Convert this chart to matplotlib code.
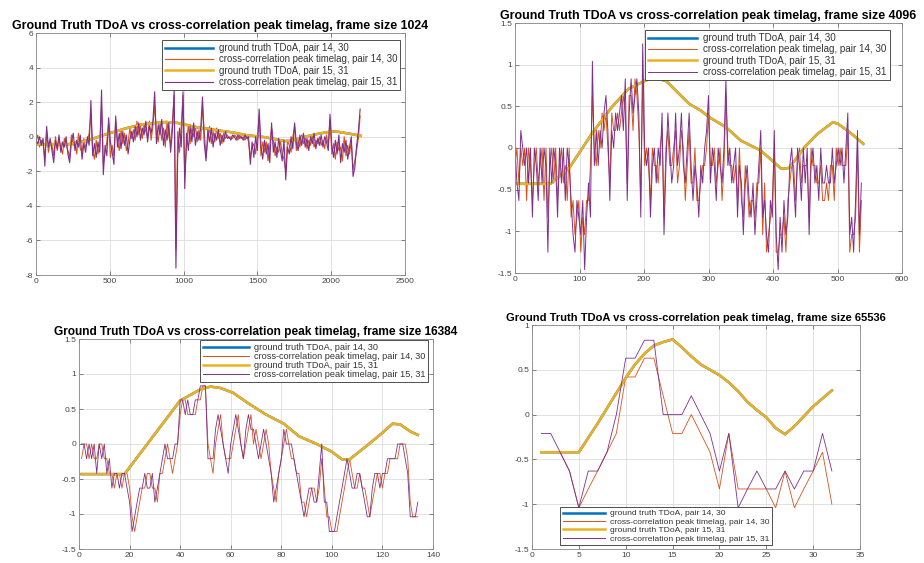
import numpy as np
import matplotlib
matplotlib.use("Agg")
import matplotlib.pyplot as plt
from matplotlib.ticker import FormatStrFormatter, MultipleLocator

plt.rcParams['font.family'] = ['Liberation Sans', 'DejaVu Sans']

# ---------------- labels ----------------
titles = ["Ground Truth TDoA vs cross-correlation peak timelag, frame size 1024",
          "Ground Truth TDoA vs cross-correlation peak timelag, frame size 4096",
          "Ground Truth TDoA vs cross-correlation peak timelag, frame size 16384",
          "Ground Truth TDoA vs cross-correlation peak timelag, frame size 65536"]
legend_labels = ["ground truth TDoA, pair 14, 30",
                 "cross-correlation peak timelag, pair 14, 30",
                 "ground truth TDoA, pair 15, 31",
                 "cross-correlation peak timelag, pair 15, 31"]

# ---------------- frame size 1024 (sampled every 12 frames) ----------------
tl_step = 12
tl_gt_x = [1, 224, 346, 485, 611, 717, 803, 876, 957, 994, 1100, 1173, 1226, 1332,
           1426, 1552, 1683, 1731, 1829, 1911, 2008, 2041, 2127, 2200]
tl_gt_y = [-0.43, -0.43, -0.23, 0.17, 0.49, 0.71, 0.79, 0.85, 0.80, 0.73, 0.53, 0.45,
           0.37, 0.25, 0.09, -0.03, -0.25, -0.24, 0.01, 0.17, 0.31, 0.29, 0.17, 0.05]
tl_cc15 = [-0.2, -0.4, 0.0, -0.5, -0.1, -1.7, 0.6, -0.6, -0.1, -0.8,
           -1.5, -0.2, -0.7, 0.1, -0.9, -0.3, -0.6, 0.0, -1.0, -1.5,
           -0.3, 0.2, -0.8, -0.2, -0.6, 0.1, -1.3, -0.4, -0.9, 0.0,
           -0.5, 2.1, -1.1, -0.4, -1.2, -0.3, -0.9, 2.7, -2.2, -0.5,
           -1.1, 1.1, -0.3, -0.9, -1.6, 1.2, -0.6, 0.2, -0.7, 0.3,
           -0.5, 0.1, -1.0, -0.2, 0.3, -0.3, 0.6, 0.0, 0.8, -0.2,
           0.5, 0.1, 0.9, -0.3, 0.6, 0.2, 0.9, 2.6, -0.4, 0.7,
           0.1, 1.0, -0.5, 0.4, -0.2, 0.8, -0.9, 0.3, 2.7, -7.6,
           -1.2, 0.5, -0.6, 2.6, -3.0, 0.2, -0.8, 0.6, -0.3, 0.8,
           -0.5, 0.3, -0.2, 0.5, 2.3, -0.4, -1.4, 0.4, -0.3, 0.5,
           -0.6, 0.2, -0.2, 0.4, -0.5, 0.1, -0.3, 0.3, -0.1, 0.0,
           -0.2, 0.1, 0.0, -0.2, 0.1, -0.1, 0.0, -0.2, 0.1, -0.1,
           0.0, -1.6, -0.3, -1.2, 0.0, -0.8, 1.6, -0.5, -1.3, -0.2,
           -1.0, -0.4, -1.5, 0.8, -0.9, -0.3, -1.2, -0.1, -0.8, -1.4,
           -0.2, -2.5, -0.6, -1.0, 0.0, -0.7, 0.8, -0.4, -0.8, 0.1,
           -0.5, 0.2, -0.6, -0.1, -0.8, 0.0, -0.4, 0.2, -0.7, -0.1,
           -0.5, 0.1, -0.6, 0.0, -0.3, -0.8, 1.3, -0.5, -1.2, -0.2,
           -1.0, 0.1, -1.5, -0.4, -0.9, -0.2, -1.3, -0.6, 0.0, -2.3,
           -1.8, -0.5, 0.3, 1.6]
tl_cc14 = [-0.3, 0.1, -0.6, -0.2, -0.4, -1.2, 0.3, -0.9, -0.3, -0.5,
           -1.1, 0.0, -0.8, -0.2, -0.6, -1.0, -0.1, -0.5, -0.8, -1.2,
           0.1, -0.5, -0.3, -1.0, 0.2, -0.7, -0.9, -0.1, -0.6, -0.3,
           0.2, 1.3, -0.8, -1.3, -0.2, -1.0, -0.5, 1.8, -1.6, -0.9,
           -0.3, 0.8, -1.2, -0.5, -1.1, 0.9, -0.2, -0.8, 0.4, -0.4,
           0.2, -0.8, -0.4, 0.5, -0.1, 0.4, -0.2, 0.9, 0.1, 0.6,
           -0.1, 0.7, 0.3, 0.0, 0.9, -0.2, 0.6, 1.8, 0.2, -0.3,
           0.8, -0.2, 0.5, -0.6, 0.9, 0.0, -0.4, 0.8, 2.4, -6.5,
           0.3, -0.9, 0.6, 2.4, -2.2, -0.5, 0.7, -0.4, 0.5, 0.0,
           0.6, -0.3, 0.4, -0.2, 1.8, 0.3, -1.2, -0.2, 0.6, -0.4,
           0.3, -0.3, 0.5, -0.1, 0.2, -0.4, 0.2, -0.1, 0.1, -0.1,
           0.0, -0.1, 0.1, 0.0, -0.2, 0.1, -0.1, 0.0, -0.2, 0.1,
           -0.3, -1.2, -0.6, -0.4, -1.0, 0.0, 1.2, -1.1, -0.3, -0.9,
           -0.3, -1.4, -0.5, 0.5, -0.2, -1.1, -0.6, -0.9, -0.2, -1.0,
           -1.3, -2.0, -0.2, -0.5, -0.9, 0.0, 0.6, -0.8, -0.2, -0.6,
           0.1, -0.4, 0.0, -0.7, -0.2, -0.5, 0.1, -0.6, -0.2, -0.4,
           0.0, -0.5, -0.2, -0.7, 0.1, -0.5, 1.0, -1.0, -0.4, -1.3,
           -0.3, -0.8, -0.6, -1.4, 0.0, -1.1, -0.5, -1.0, -0.3, -1.9,
           -1.4, -0.8, -0.1, 1.2]

# ---------------- frame size 4096 (sampled every 3 frames) ----------------
tr_step = 3
tr_gt_x = [1, 55, 85, 119, 150, 176, 197, 215, 235, 244, 270, 288, 301, 327, 350,
           381, 413, 425, 449, 469, 493, 501, 522, 540]
tr_gt_y = [-0.43, -0.43, -0.23, 0.17, 0.49, 0.71, 0.79, 0.85, 0.80, 0.73, 0.53, 0.45,
           0.37, 0.25, 0.09, -0.03, -0.25, -0.24, 0.01, 0.17, 0.31, 0.29, 0.17, 0.05]
tr_cc15 = [0, -0.42, -0.63, 0.21, 0, -0.21, 0, -0.42, 0, -0.83,
           0, -0.21, -0.63, 0, -0.42, 0, -0.21, -1.25, 0, -0.42,
           0, -0.21, -0.83, 0, -0.42, 0, -0.63, 0, -0.21, -0.63,
           -1.04, -1.25, -0.63, -0.83, -1.04, -0.63, -1.46, -0.83, -0.42, -0.83,
           1.04, -0.21, 0.21, -0.21, 0.21, 0, 0.42, 0.63, 0.21, -0.63,
           0.21, 0, 0.42, 0.21, 0.42, 0.63, 0.21, 0.83, -0.63, 0.42,
           0.83, 0.42, 0.63, 0.83, 0.42, -0.83, 1.25, 0, -0.21, 0,
           -0.83, -0.21, 0, -0.42, 0, -0.21, 0.42, -1.04, -0.21, 0.42,
           0, -0.42, -0.21, 0.42, -0.21, 0, 0.42, -0.21, -0.42, 0,
           0.42, -0.21, -0.63, -0.21, -0.42, -0.83, -0.21, -0.42, 0, 0.21,
           0.63, -0.42, 0, -0.21, -0.63, 0, -0.21, -0.42, 0, 0.83,
           -0.21, 0, -0.42, -0.21, 0, -0.83, -0.21, -0.42, -1.04, -0.42,
           -0.21, -0.63, -0.83, -0.42, -1.04, -0.63, -0.21, 0.21, -0.83, -0.63,
           -1.04, -1.25, -0.63, -0.83, 0.21, -1.04, -1.46, -0.83, -1.25, -0.63,
           -1.04, -0.83, -0.21, 0, -0.42, -0.83, 0, -0.21, -0.63, 0,
           -0.42, 0, -1.04, -0.21, 0, -0.42, -0.21, -0.63, 0, -0.42,
           -0.42, -0.21, -0.42, -0.42, 0, -0.42, -0.21, 0, -0.21, 0,
           -0.42, 0, 0.42, -1.04, -0.83, -1.25, -0.63, 0.21, -1.04, -0.42]
tr_cc14 = [-0.21, 0, -0.42, 0, -0.21, 0, -0.63, 0, -0.21, -0.63,
           -0.21, 0, -0.42, -0.21, 0, -0.63, 0, -0.83, -0.21, 0,
           -0.42, 0, -0.63, -0.21, 0, -0.42, -0.21, -0.63, 0, -0.83,
           -0.63, -1.04, -0.83, -0.63, -1.25, -0.83, -1.04, -0.63, -0.63, -0.21,
           0.63, 0, -0.21, 0.21, 0, 0.42, 0.21, 0.42, 0, -0.42,
           0.42, 0.21, 0.21, 0.42, 0.21, 0.42, 0.63, 0.42, -0.42, 0.63,
           0.63, 0.21, 0.83, 0.63, 0.21, -0.63, 0.83, -0.21, 0, -0.21,
           -0.63, 0, -0.21, -0.21, -0.42, 0, 0.21, -0.83, 0, 0.21,
           -0.21, -0.21, 0, 0.21, -0.42, -0.21, 0.21, 0, -0.63, -0.21,
           0.21, -0.42, -0.42, 0, -0.63, -0.63, -0.42, -0.21, -0.21, 0,
           0.42, -0.21, -0.21, 0, -0.42, -0.21, 0, -0.63, -0.21, 0.63,
           0, -0.21, -0.21, -0.42, -0.21, -0.63, 0, -0.63, -0.83, -0.21,
           -0.42, -0.83, -0.63, -0.63, -0.83, -0.42, -0.42, 0, -1.04, -0.42,
           -1.25, -1.04, -0.83, -0.63, 0, -1.25, -1.25, -1.04, -1.04, -0.83,
           -1.25, -0.63, -0.42, -0.21, -0.21, -0.63, -0.21, 0, -0.42, -0.21,
           -0.21, -0.21, -0.83, 0, -0.21, -0.21, -0.42, -0.42, -0.21, -0.63,
           -0.63, -0.42, -0.63, -0.21, -0.21, -0.63, 0, -0.21, 0, -0.21,
           -0.21, -0.21, 0.21, -1.25, -1.04, -1.04, -0.83, 0, -1.25, -0.63]

# ---------------- frame size 16384 ----------------
bl_gt_x = [1, 18, 40, 48, 52, 56, 61, 67, 74, 81, 87, 94, 100, 104, 107, 114, 120,
           124, 127, 131, 134]
bl_gt_y = [-0.43, -0.43, 0.62, 0.78, 0.82, 0.80, 0.73, 0.58, 0.42, 0.29, 0.11, 0.0,
           -0.11, -0.22, -0.22, -0.02, 0.16, 0.29, 0.28, 0.18, 0.13]
bl_cc15 = [0, 0, -0.21, 0, -0.21, 0, -0.42, 0, -0.21, 0,
           -0.42, -0.21, -0.63, -0.42, -0.42, -0.63, -0.42, -0.42, -0.63, -0.83,
           -1.25, -1.04, -0.83, -0.63, -0.63, -0.42, -0.63, -0.63, -0.42, -0.83,
           -0.63, -0.42, -0.21, 0, -0.21, -0.21, -0.21, 0, 0, 0.63,
           0.63, 0.42, 0.63, 0.42, 0.42, 0.63, 0.63, 0.83, 0.83, 0.83,
           -0.21, -0.21, -0.21, 0.21, 0.42, 0.21, 0, -0.21, -0.42, 0,
           0.21, 0.42, 0.21, 0, -0.21, 0.21, 0.42, 0.21, 0.21, 0,
           -0.21, 0, 0.21, 0, -0.21, -0.42, -0.83, -0.63, -0.42, -0.21,
           0.21, 0, 0, 0, -0.21, -0.42, -0.63, -0.83, -1.04, -0.83,
           -0.63, -0.63, -0.83, -0.83, -0.42, 0, -0.83, -0.83, -1.25, -1.25,
           -1.25, -1.04, -0.83, -0.63, -0.42, -0.21, -0.42, -0.63, -0.63, -0.42,
           -0.42, -0.63, -0.83, -1.04, -1.04, -0.63, -0.42, -0.42, -0.63, -0.42,
           -0.42, -0.21, -0.21, -0.21, -0.21, 0, 0, 0, -0.21, -0.42,
           -1.04, -1.04, -1.04, -0.83]
bl_cc14 = [-0.21, 0, 0, -0.21, 0, -0.21, -0.21, 0, 0, -0.21,
           -0.21, -0.42, -0.42, -0.63, -0.42, -0.42, -0.63, -0.42, -0.42, -0.63,
           -1.04, -1.25, -1.04, -0.83, -0.63, -0.63, -0.42, -0.42, -0.63, -0.63,
           -0.83, -0.42, -0.42, -0.21, 0, -0.21, -0.42, -0.21, 0, 0.42,
           0.63, 0.63, 0.42, 0.42, 0.42, 0.42, 0.63, 0.63, 0.83, 0.83,
           0, -0.21, -0.42, 0, 0.21, 0.42, 0, -0.21, -0.21, -0.21,
           0, 0.21, 0.42, 0, -0.21, 0, 0.21, 0.42, 0, 0.21,
           0, -0.21, 0, 0.21, 0, -0.42, -0.63, -0.83, -0.42, -0.21,
           0, 0.21, 0, -0.21, -0.21, -0.42, -0.42, -0.83, -0.83, -1.04,
           -0.83, -0.63, -0.63, -0.83, -0.63, -0.21, -0.63, -1.04, -1.04, -1.25,
           -1.25, -1.25, -1.04, -0.83, -0.63, -0.42, -0.21, -0.42, -0.63, -0.63,
           -0.42, -0.63, -0.63, -0.83, -1.04, -0.83, -0.63, -0.42, -0.42, -0.63,
           -0.42, -0.42, -0.21, -0.21, -0.21, -0.21, 0, 0, 0, -0.21,
           -0.83, -1.04, -1.04, -1.04]

# ---------------- frame size 65536 ----------------
br_gt = [-0.42, -0.42, -0.42, -0.42, -0.42, -0.26, -0.10, 0.07, 0.24, 0.41,
         0.56, 0.68, 0.77, 0.81, 0.84, 0.75, 0.65, 0.56, 0.50, 0.44,
         0.36, 0.26, 0.14, 0.05, -0.03, -0.15, -0.22, -0.13, -0.02, 0.09,
         0.18, 0.27]
br_cc15 = [-0.21, -0.21, -0.42, -0.63, -1.04, -0.63, -0.63, -0.42, 0.0, 0.63,
           0.63, 0.83, 0.83, 0.0, 0.0, 0.0, 0.21, 0.0, -0.21, -0.63,
           -0.21, -1.04, -0.83, -0.63, -0.83, -0.83, -0.63, -0.83, -0.63, -0.63,
           -0.21, -0.63]
br_cc14 = [-0.42, -0.42, -0.42, -0.63, -1.04, -0.83, -0.63, -0.42, -0.21, 0.42,
           0.42, 0.63, 0.63, 0.21, -0.21, -0.21, 0.0, -0.21, -0.42, -0.83,
           -0.21, -0.83, -0.83, -0.83, -0.83, -1.04, -0.63, -1.04, -0.83, -0.63,
           -0.42, -1.0]

# ---------------- styling ----------------
C_BLUE, C_ORANGE, C_YELLOW, C_PURPLE = '#0072BD', '#D95319', '#EDB120', '#7E2F8E'
W, H = 924, 563

fig = plt.figure(figsize=(W / 100, H / 100), dpi=100)
fig.patch.set_facecolor('white')


def px_axes(l, t, r, b):
    return fig.add_axes([l / W, 1 - b / H, (r - l) / W, (b - t) / H])


def style(ax, xlim, xstep, ylim, ystep):
    ax.set_xlim(*xlim)
    ax.set_ylim(*ylim)
    ax.xaxis.set_major_locator(MultipleLocator(xstep))
    ax.yaxis.set_major_locator(MultipleLocator(ystep))
    ax.yaxis.set_major_formatter(FormatStrFormatter('%g'))
    ax.xaxis.set_major_formatter(FormatStrFormatter('%g'))
    ax.grid(True, color='#dcdcdc', linewidth=0.6)
    ax.set_axisbelow(True)
    ax.tick_params(direction='in', length=3, width=0.5, top=True, right=True,
                   labelsize=6, colors='#555555', labelcolor='#444444', pad=2)
    for s in ax.spines.values():
        s.set_color('#888888')
        s.set_linewidth(0.6)


def draw(ax, gx, gy, cx, c14, c15, lw):
    l1, = ax.plot(gx, gy, color=C_BLUE, lw=1.8)
    l2, = ax.plot(cx, c14, color=C_ORANGE, lw=lw)
    l3, = ax.plot(gx, gy, color=C_YELLOW, lw=1.8)
    l4, = ax.plot(cx, c15, color=C_PURPLE, lw=lw)
    return [l1, l2, l3, l4]


def legend(ax, handles, left, top, fs, hl=5.0, ls=0.15):
    lg = ax.legend(handles, legend_labels, loc='upper left',
                   bbox_to_anchor=(left / W, 1 - top / H),
                   bbox_transform=fig.transFigure, borderaxespad=0,
                   fontsize=fs, fancybox=False, framealpha=1,
                   edgecolor='#333333', handlelength=hl, handletextpad=0.6,
                   labelspacing=ls, borderpad=0.3)
    lg.get_frame().set_linewidth(0.6)
    for t in lg.get_texts():
        t.set_color('#333333')
    for ln in lg.get_lines():
        ln.set_linewidth(max(ln.get_linewidth(), 0.7))


# top-left
ax1 = px_axes(36, 33, 405, 275)
tl_x = np.arange(len(tl_cc15)) * tl_step
h = draw(ax1, tl_gt_x, tl_gt_y, tl_x, tl_cc14, tl_cc15, 0.8)
style(ax1, (0, 2500), 500, (-8, 6), 2)
ax1.set_title(titles[0], fontsize=8.9, fontweight='bold', pad=3)
legend(ax1, h, 162, 40, 6.9)

# top-right
ax2 = px_axes(515, 23, 902, 273)
tr_x = np.arange(len(tr_cc15)) * tr_step
h = draw(ax2, tr_gt_x, tr_gt_y, tr_x, tr_cc14, tr_cc15, 0.7)
style(ax2, (0, 600), 100, (-1.5, 1.5), 0.5)
ax2.set_title(titles[1], fontsize=8.9, fontweight='bold', pad=3)
legend(ax2, h, 645, 30, 7.1)

# bottom-left
ax3 = px_axes(79, 339, 433, 549)
bl_x = np.arange(1, len(bl_cc15) + 1)
h = draw(ax3, bl_gt_x, bl_gt_y, bl_x, bl_cc14, bl_cc15, 0.6)
style(ax3, (0, 140), 20, (-1.5, 1.5), 0.5)
ax3.set_title(titles[2], fontsize=8.6, fontweight='bold', pad=3)
legend(ax3, h, 200, 340, 6.6, ls=0.02)

# bottom-right
ax4 = px_axes(532, 325, 860, 549)
br_x = np.arange(1, len(br_gt) + 1)
h = draw(ax4, br_x, br_gt, br_x, br_cc14, br_cc15, 0.6)
style(ax4, (0, 35), 5, (-1.5, 1), 0.5)
ax4.set_title(titles[3], fontsize=8.0, fontweight='bold', pad=3)
legend(ax4, h, 560, 507, 6.1, ls=0.05)

fig.savefig('out.png', dpi=100, facecolor='white')
